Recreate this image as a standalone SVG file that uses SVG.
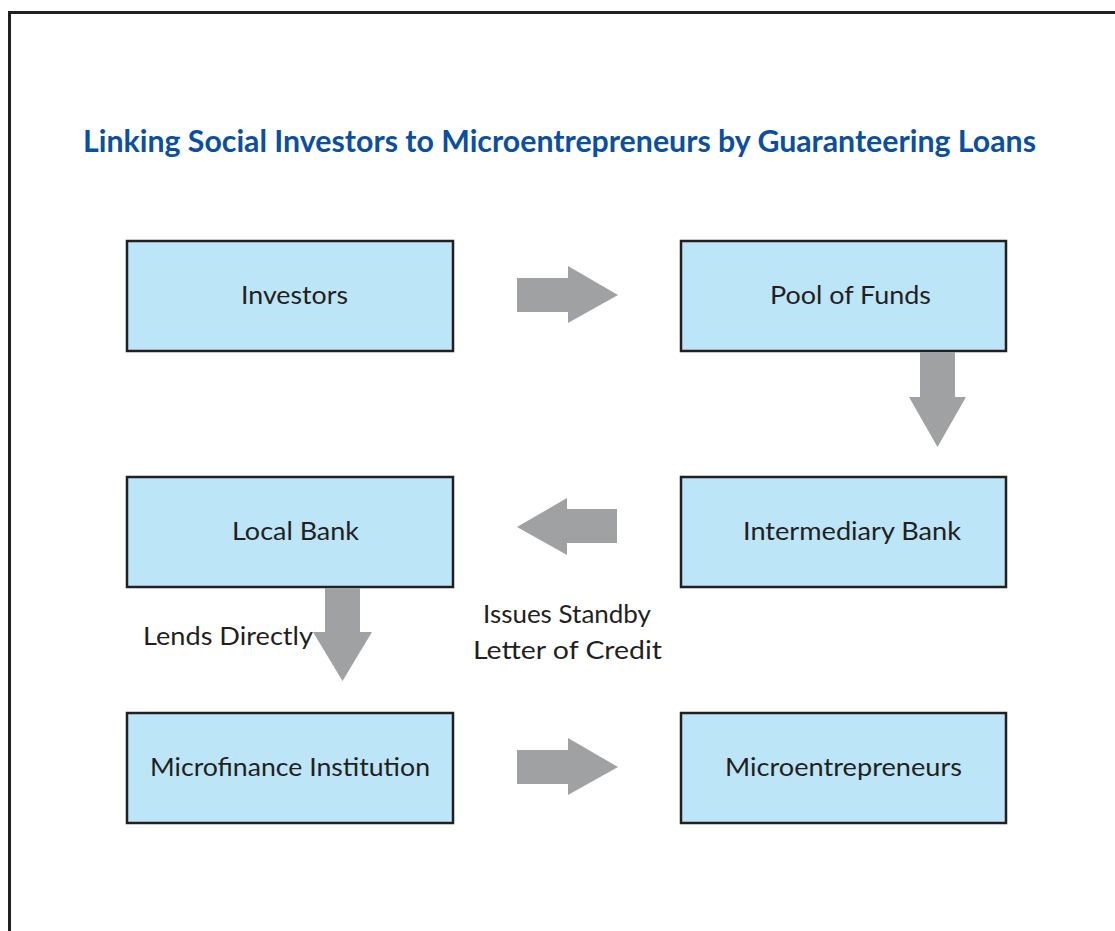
<svg xmlns="http://www.w3.org/2000/svg" width="1115" height="931" viewBox="0 0 1115 931">
  <style>
    .box { fill: #bde5f8; stroke: #231f20; stroke-width: 2.5; }
    .lbl { font-family: Lato, "Open Sans", "Liberation Sans", sans-serif; font-size: 25.5px; fill: #231f20; }
    .arrow { fill: #a0a1a3; }
    .title { font-family: Lato, "Liberation Sans", sans-serif; font-weight: bold; font-size: 30px; fill: #0b4f9e; }
  </style>
  <rect x="0" y="0" width="1115" height="931" fill="#ffffff"/>
  <!-- outer frame, open to the right and bottom -->
  <rect x="9.5" y="12.5" width="1200" height="1000" fill="none" stroke="#231f20" stroke-width="3"/>

  <text class="title" x="83" y="152" textLength="953" lengthAdjust="spacingAndGlyphs">Linking Social Investors to Microentrepreneurs by Guaranteering Loans</text>

  <g id="investors">
    <rect class="box" x="127" y="241" width="326" height="110"/>
    <text class="lbl" x="241" y="304" textLength="107" lengthAdjust="spacingAndGlyphs">Investors</text>
  </g>
  <g id="pool-of-funds">
    <rect class="box" x="681" y="241" width="325" height="110"/>
    <text class="lbl" x="770" y="304" textLength="161" lengthAdjust="spacingAndGlyphs">Pool of Funds</text>
  </g>
  <g id="local-bank">
    <rect class="box" x="127" y="477" width="326" height="110"/>
    <text class="lbl" x="232" y="540" textLength="127" lengthAdjust="spacingAndGlyphs">Local Bank</text>
  </g>
  <g id="intermediary-bank">
    <rect class="box" x="681" y="477" width="325" height="110"/>
    <text class="lbl" x="743" y="540" textLength="218" lengthAdjust="spacingAndGlyphs">Intermediary Bank</text>
  </g>
  <g id="microfinance-institution">
    <rect class="box" x="127" y="713" width="326" height="110"/>
    <text class="lbl" x="150" y="776" textLength="280" lengthAdjust="spacingAndGlyphs">Microfinance Institution</text>
  </g>
  <g id="microentrepreneurs">
    <rect class="box" x="681" y="713" width="325" height="110"/>
    <text class="lbl" x="725" y="776" textLength="237" lengthAdjust="spacingAndGlyphs">Microentrepreneurs</text>
  </g>

  <g id="connectors">
    <!-- Investors -> Pool of Funds -->
    <polygon class="arrow" points="517,278 568,278 568,266 618,295 568,323 568,312 517,312"/>
    <!-- Pool of Funds -> Intermediary Bank -->
    <polygon class="arrow" points="920,352 955,352 955,397 966,397 937.5,447 909,397 920,397"/>
    <!-- Intermediary Bank -> Local Bank -->
    <polygon class="arrow" points="617,509 567,509 567,498 517,527 567,555 567,543 617,543"/>
    <!-- Local Bank -> Microfinance Institution -->
    <polygon class="arrow" points="325,588 360,588 360,632 372,632 342.5,681 313,632 325,632"/>
    <!-- Microfinance Institution -> Microentrepreneurs -->
    <polygon class="arrow" points="517,750 568,750 568,738 618,767 568,795 568,784 517,784"/>

    <text class="lbl" x="143" y="645" textLength="170" lengthAdjust="spacingAndGlyphs">Lends Directly</text>
    <text class="lbl" x="483" y="623" textLength="168" lengthAdjust="spacingAndGlyphs">Issues Standby</text>
    <text class="lbl" x="473" y="659" textLength="189" lengthAdjust="spacingAndGlyphs">Letter of Credit</text>
  </g>
</svg>
